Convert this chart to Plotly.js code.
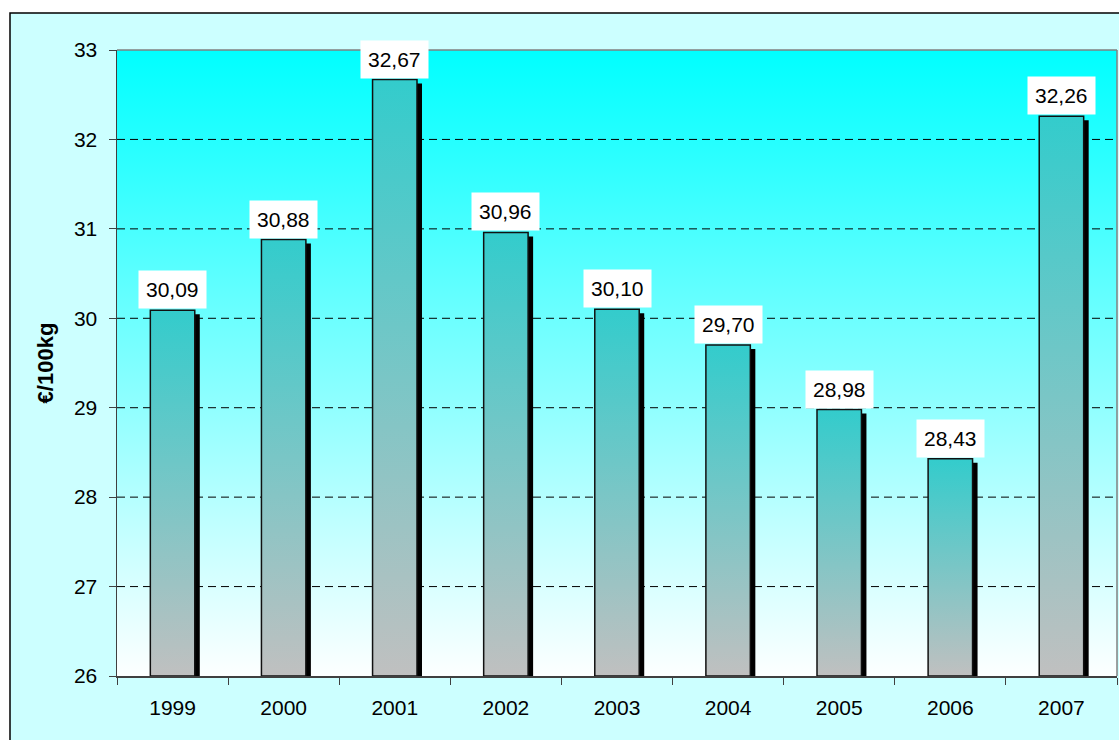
<!DOCTYPE html>
<html>
<head>
<meta charset="utf-8">
<script src="https://cdn.plot.ly/plotly-3.0.1.min.js"></script>
<style>
  html, body { margin: 0; padding: 0; background: #ffffff; }
  #chart { width: 1119px; height: 740px; }
</style>
</head>
<body>
<div id="chart"></div>
<script>
// ---- data ----
const years = ['1999', '2000', '2001', '2002', '2003', '2004', '2005', '2006', '2007'];
const prices = [30.09, 30.88, 32.67, 30.96, 30.10, 29.70, 28.98, 28.43, 32.26];
const yTickValues = [26, 27, 28, 29, 30, 31, 32, 33];
const gridLevels = [27, 28, 29, 30, 31, 32];
const yAxisTitle = '€/100kg';

// ---- geometry / style ----
const W = 1119, H = 740;
const M = { l: 117, r: 2, t: 50, b: 64 };
const plotW = W - M.l - M.r, plotH = H - M.t - M.b;
const yMin = 26, yMax = 33;
const xMin = -0.5, xMax = years.length - 0.5;
const halfBar = 0.2;
const pxX = (xMax - xMin) / plotW;   // data units per pixel (x)
const pxY = (yMax - yMin) / plotH;   // data units per pixel (y)
const shadowDx = 5 * pxX, shadowDy = 4 * pxY;
const FONT = 'Liberation Sans, Arial, sans-serif';
const FS = 21;

const traces = [];

// plot-area background gradient
traces.push({
  type: 'scatter', mode: 'lines',
  x: [xMin, xMax, xMax, xMin, xMin],
  y: [yMin, yMin, yMax, yMax, yMin],
  fill: 'toself', line: { width: 0 },
  fillgradient: { type: 'vertical', colorscale: [[0, '#FDFFFF'], [1, '#00FFFF']] },
  hoverinfo: 'skip', showlegend: false
});

// dashed gridlines
gridLevels.forEach(g => {
  traces.push({
    type: 'scatter', mode: 'lines',
    x: [xMin, xMax], y: [g, g],
    line: { color: '#000000', width: 1, dash: '8px,5px' },
    hoverinfo: 'skip', showlegend: false
  });
});

// shadows
prices.forEach((v, i) => {
  const x0 = i - halfBar + shadowDx, x1 = i + halfBar + shadowDx;
  traces.push({
    type: 'scatter', mode: 'lines',
    x: [x0, x1, x1, x0, x0],
    y: [yMin, yMin, v - shadowDy, v - shadowDy, yMin],
    fill: 'toself', fillcolor: '#000000', line: { width: 0 },
    hoverinfo: 'skip', showlegend: false
  });
});

// bars with vertical gradient
prices.forEach((v, i) => {
  const x0 = i - halfBar, x1 = i + halfBar;
  traces.push({
    type: 'scatter', mode: 'lines',
    x: [x0, x1, x1, x0, x0],
    y: [yMin, yMin, v, v, yMin],
    fill: 'toself',
    fillgradient: { type: 'vertical', colorscale: [[0, '#C0C0C0'], [1, '#33CCCC']] },
    line: { color: '#111111', width: 1.5 },
    hoverinfo: 'skip', showlegend: false
  });
});

const annotations = prices.map((v, i) => ({
  x: i, y: v, xref: 'x', yref: 'y',
  text: v.toFixed(2).replace('.', ','),
  showarrow: false, yanchor: 'bottom', xanchor: 'center',
  yshift: 1,
  bgcolor: '#FFFFFF', borderpad: 7,
  font: { family: FONT, size: FS, color: '#000000' }
}));

const pxToPaperX = px => (px - M.l) / plotW;
const pxToPaperY = py => (H - M.b - py) / plotH;

const layout = {
  width: W, height: H,
  margin: M,
  paper_bgcolor: '#FFFFFF',
  plot_bgcolor: 'rgba(0,0,0,0)',
  showlegend: false,
  font: { family: FONT, size: FS, color: '#000000' },
  xaxis: {
    range: [xMin, xMax],
    tickmode: 'array',
    tickvals: years.map((_, i) => i),
    ticktext: years,
    ticks: '',
    ticklabelstandoff: 12,
    showgrid: false, zeroline: false,
    showline: true, linecolor: '#404040', linewidth: 1.5,
    minor: {
      tickmode: 'array',
      tickvals: years.map((_, i) => i - 0.5).concat([xMax]),
      ticks: 'outside', ticklen: 7, tickwidth: 1, tickcolor: '#404040',
      showgrid: false
    },
    tickfont: { family: FONT, size: FS, color: '#000000' },
    fixedrange: true
  },
  yaxis: {
    range: [yMin, yMax],
    tickmode: 'array',
    tickvals: yTickValues,
    ticks: 'outside', ticklen: 7, tickwidth: 1, tickcolor: '#404040',
    ticklabelstandoff: 7,
    showgrid: false, zeroline: false,
    showline: true, linecolor: '#404040', linewidth: 1.5,
    tickfont: { family: FONT, size: FS, color: '#000000' },
    title: { text: '<b>' + yAxisTitle + '</b>', standoff: 14, font: { family: FONT, size: 22, color: '#000000' } },
    automargin: false,
    fixedrange: true
  },
  shapes: [
    // outer chart area
    {
      type: 'rect', xref: 'paper', yref: 'paper', layer: 'below',
      x0: pxToPaperX(10), x1: pxToPaperX(W + 10),
      y0: pxToPaperY(H + 10), y1: pxToPaperY(13),
      fillcolor: '#CCFFFF', line: { color: '#000000', width: 1.5 }
    },
    // plot area top and right border
    {
      type: 'line', xref: 'paper', yref: 'paper', layer: 'above',
      x0: 0, x1: 1, y0: 1, y1: 1, line: { color: '#808080', width: 1.5 }
    },
    {
      type: 'line', xref: 'paper', yref: 'paper', layer: 'above',
      x0: 1, x1: 1, y0: 0, y1: 1, line: { color: '#808080', width: 1.5 }
    }
  ],
  annotations: annotations,
  hovermode: false
};

Plotly.newPlot('chart', traces, layout, { displayModeBar: false, staticPlot: true });
</script>
</body>
</html>
